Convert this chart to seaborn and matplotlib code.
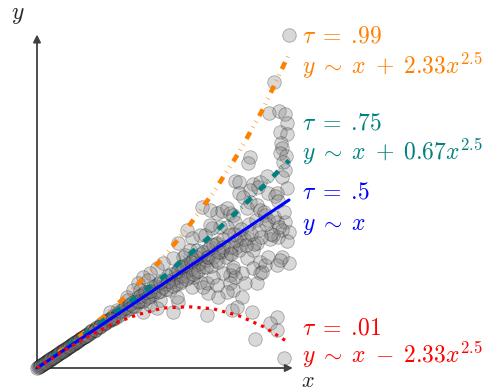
import matplotlib
matplotlib.use('Agg')
import matplotlib.pyplot as plt
import seaborn as sns
import pandas as pd

sns.set_style('white')
plt.rcParams['mathtext.fontset'] = 'cm'
plt.rcParams['lines.scale_dashes'] = False

upper_x = [1.00, 0.940, 0.921, 0.960, 0.984, 0.992, 0.964, 0.992, 0.968, 0.972, 0.964, 0.988, 0.845, 0.837,
           0.786, 0.802, 0.984, 0.972, 0.992, 0.802, 0.857, 0.885, 0.913, 0.877, 0.845, 0.917, 0.952, 0.976,
           0.944, 0.956, 0.817, 0.845, 0.833, 0.873, 0.885, 0.905, 0.917, 0.952, 0.984, 1.00, 0.972, 0.956,
           0.937, 0.925, 0.992, 0.714, 0.734, 0.766, 0.786, 0.754, 0.726, 0.694, 0.667, 0.647, 0.595, 0.615,
           0.806, 0.833, 0.873, 0.857, 0.806, 0.786, 0.766, 0.734, 0.714, 0.687, 0.675, 0.647, 0.607, 0.619,
           0.579, 0.567, 0.833, 0.885, 0.905, 0.917, 0.972, 1.00, 0.952, 0.857, 0.778, 0.766, 0.813, 0.885,
           0.738, 0.786, 0.766, 0.778, 0.813, 0.754, 0.718, 0.679, 0.825, 0.873, 0.893, 0.965, 0.560, 0.540,
           0.675, 0.774, 0.853, 0.952, 0.925, 0.952, 0.865, 0.980, 0.615, 0.647, 0.675, 0.619, 0.567, 0.528,
           0.488, 0.476, 0.448, 0.421, 0.655, 0.687, 0.754, 0.778, 0.687, 0.560, 0.635, 0.587, 0.540, 0.500,
           0.476, 0.448, 0.421, 0.401, 0.381, 0.357, 0.778, 0.698, 0.659, 0.714, 0.556, 0.794, 0.440, 0.409,
           0.361, 0.317, 0.290]
upper_y = [1.98, 1.70, 1.52, 1.53, 1.51, 1.46, 1.405, 1.39, 1.34, 1.31, 1.28, 1.26, 1.256, 1.22,
           1.113, 1.107, 1.18, 1.137, 1.071, 1.042, 1.095, 1.107, 1.143, 1.077, 1.06, 1.042, 1.042, 1.226,
           1.024, 0.994, 1.018, 0.988, 0.952, 0.97, 0.94, 0.911, 0.881, 0.869, 0.869, 0.81, 0.821, 0.78,
           0.792, 0.768, 0.756, 0.923, 0.935, 0.923, 0.869, 0.839, 0.839, 0.833, 0.792, 0.792, 0.821, 0.774,
           0.792, 0.774, 0.744, 0.702, 0.732, 0.714, 0.685, 0.702, 0.744, 0.72, 0.661, 0.625, 0.702, 0.643,
           0.661, 0.601, 0.655, 0.631, 0.613, 0.661, 0.661, 0.625, 0.613, 0.595, 0.583, 0.554, 0.565, 0.565,
           0.565, 0.542, 0.506, 0.464, 0.423, 0.452, 0.423, 0.446, 0.506, 0.506, 0.571, 0.64, 0.393, 0.333,
           0.315, 0.345, 0.333, 0.304, 0.268, 0.226, 0.173, 0.06, 0.482, 0.512, 0.506, 0.542, 0.506, 0.464,
           0.405, 0.357, 0.375, 0.333, 0.958, 0.94, 0.952, 0.911, 0.851, 0.744, 0.702, 0.673, 0.655, 0.625,
           0.595, 0.565, 0.542, 0.506, 0.464, 0.423, 0.601, 0.542, 0.482, 0.494, 0.423, 0.363, 0.524, 0.464,
           0.405, 0.345, 0.333]

band_x = [0.005, 0.01, 0.015, 0.02, 0.025, 0.03, 0.035, 0.04, 0.045, 0.05, 0.055, 0.06, 0.065, 0.07, 0.075,
          0.08, 0.085, 0.09, 0.095, 0.10, 0.105, 0.11, 0.115, 0.12, 0.125, 0.13, 0.135, 0.14, 0.145, 0.15,
          0.155, 0.16, 0.165, 0.17, 0.175, 0.18, 0.185, 0.19, 0.195, 0.20, 0.205, 0.21, 0.215, 0.22, 0.225,
          0.23, 0.235, 0.24, 0.245, 0.25, 0.255, 0.26, 0.265, 0.27, 0.275, 0.28, 0.285, 0.29, 0.295,
          0.30, 0.30, 0.31, 0.32, 0.33, 0.34, 0.35, 0.36, 0.36, 0.37, 0.38, 0.39, 0.40, 0.40, 0.41, 0.42,
          0.43, 0.44, 0.45, 0.46, 0.46, 0.47, 0.48, 0.49, 0.50, 0.50, 0.51, 0.52, 0.53, 0.54, 0.55, 0.55,
          0.56, 0.57, 0.58, 0.59, 0.60, 0.60, 0.61, 0.62, 0.63, 0.64, 0.65, 0.66, 0.67, 0.68, 0.69, 0.70,
          0.71, 0.72, 0.73, 0.74, 0.75, 0.77, 0.78, 0.80, 0.82, 0.84, 0.86, 0.88, 0.90, 0.93,
          0.30, 0.32, 0.33, 0.35, 0.37, 0.38, 0.40, 0.41, 0.42, 0.43, 0.44, 0.45, 0.47, 0.48, 0.49, 0.51,
          0.52, 0.53, 0.54, 0.56, 0.57, 0.58, 0.59, 0.61, 0.62, 0.63, 0.64, 0.66, 0.67, 0.68, 0.70, 0.71,
          0.72, 0.74, 0.76, 0.77, 0.79, 0.81, 0.83, 0.85, 0.87, 0.89, 0.91, 0.94, 0.96, 0.98]
band_y = [0.005, 0.01, 0.015, 0.02, 0.025, 0.03, 0.035, 0.04, 0.045, 0.05, 0.055, 0.06, 0.065, 0.07, 0.075,
          0.08, 0.085, 0.09, 0.095, 0.10, 0.105, 0.11, 0.115, 0.12, 0.125, 0.13, 0.136, 0.14, 0.144, 0.15,
          0.156, 0.16, 0.164, 0.17, 0.176, 0.18, 0.184, 0.19, 0.196, 0.20, 0.204, 0.21, 0.218, 0.225, 0.222,
          0.225, 0.238, 0.245, 0.242, 0.245, 0.26, 0.265, 0.262, 0.265, 0.28, 0.285, 0.28, 0.283, 0.30,
          0.31, 0.29, 0.30, 0.33, 0.32, 0.35, 0.34, 0.37, 0.35, 0.36, 0.39, 0.37, 0.42, 0.39, 0.40, 0.44,
          0.41, 0.45, 0.43, 0.48, 0.44, 0.46, 0.50, 0.46, 0.52, 0.48, 0.50, 0.55, 0.51, 0.53, 0.57, 0.50,
          0.54, 0.60, 0.55, 0.58, 0.62, 0.54, 0.59, 0.65, 0.57, 0.62, 0.68, 0.60, 0.64, 0.71, 0.61, 0.66,
          0.74, 0.63, 0.69, 0.77, 0.66, 0.72, 0.80, 0.70, 0.77, 0.86, 0.74, 0.82, 0.93, 0.80,
          0.30, 0.31, 0.34, 0.36, 0.38, 0.37, 0.40, 0.43, 0.40, 0.45, 0.42, 0.46, 0.49, 0.45, 0.51, 0.47,
          0.52, 0.56, 0.49, 0.58, 0.52, 0.61, 0.53, 0.63, 0.56, 0.66, 0.58, 0.69, 0.60, 0.66, 0.73, 0.64,
          0.69, 0.72, 0.79, 0.68, 0.76, 0.83, 0.73, 0.80, 0.88, 0.78, 0.86, 0.90, 0.84, 0.93]

# extra points packed near the origin (the dark streak)
origin_x = [0.0, 0.0075, 0.0125, 0.0175, 0.0225, 0.0275, 0.0325, 0.0375, 0.0425, 0.0475, 0.0525, 0.0575,
            0.0625, 0.0675, 0.0725, 0.0775, 0.0825, 0.0875, 0.0925, 0.0975, 0.1025, 0.1075, 0.1125, 0.1175,
            0.1225, 0.1275, 0.1325, 0.1375, 0.1425, 0.1475, 0.1525, 0.1575, 0.1625, 0.1675, 0.1725, 0.1775,
            0.1825, 0.1875, 0.1925, 0.1975, 0.21, 0.23, 0.25, 0.27, 0.29]
origin_y = [0.0, 0.0075, 0.0125, 0.0175, 0.0225, 0.0275, 0.0325, 0.0375, 0.0425, 0.0475, 0.0525, 0.0575,
            0.0625, 0.0675, 0.0725, 0.0775, 0.0825, 0.0875, 0.0925, 0.0975, 0.1025, 0.1075, 0.1125, 0.1175,
            0.1225, 0.1275, 0.1325, 0.1375, 0.1425, 0.1475, 0.1525, 0.1575, 0.1625, 0.1675, 0.1725, 0.1775,
            0.1825, 0.1875, 0.1925, 0.1975, 0.212, 0.228, 0.252, 0.268, 0.292]

# quantile fits
fit_x = [0.0, 0.1, 0.2, 0.3, 0.4, 0.5, 0.6, 0.7, 0.8, 0.9, 1.0]
q99_y = [0.0, 0.108, 0.225, 0.35, 0.50, 0.655, 0.84, 1.045, 1.28, 1.55, 1.87]
q75_y = [0.0, 0.11, 0.212, 0.324, 0.428, 0.54, 0.67, 0.80, 0.94, 1.085, 1.235]
q50_y = [0.0, 0.1, 0.2, 0.3, 0.4, 0.5, 0.6, 0.7, 0.8, 0.9, 1.0]
q01_y = [0.0, 0.098, 0.185, 0.262, 0.318, 0.357, 0.365, 0.352, 0.312, 0.245, 0.15]

labels = [(r'$\tau\;=\;.\!99$', r'$y\;\sim\;x\;+\;2.33x^{2.5}$', '#ff8000', 1.98, 1.80),
          (r'$\tau\;=\;.\!75$', r'$y\;\sim\;x\;+\;0.67x^{2.5}$', '#008080', 1.464, 1.286),
          (r'$\tau\;=\;.\!5$', r'$y\;\sim\;x$', '#0000ff', 1.048, 0.85),
          (r'$\tau\;=\;.\!01$', r'$y\;\sim\;x\;-\;2.33x^{2.5}$', '#ff0000', 0.244, 0.08)]

pts = pd.DataFrame({'x': upper_x + band_x + origin_x, 'y': upper_y + band_y + origin_y})

fig = plt.figure(figsize=(4.98, 3.92), dpi=100)
ax = fig.add_axes([37 / 498, 24 / 392, 252 / 498, 331 / 392])

sns.scatterplot(data=pts, x='x', y='y', s=95, color='0.5', alpha=0.3, edgecolor='k',
                linewidth=0.6, clip_on=False, ax=ax, zorder=2)

styles = [(q99_y, '#ff8000', 3.3, (0, (5.5, 4, 0.4, 4, 0.4, 4.5))),
          (q75_y, '#008080', 3.4, (0, (5.5, 3.8, 0.4, 4.0))),
          (q50_y, '#0000ff', 2.2, '-'),
          (q01_y, '#ff0000', 2.3, (0, (2.3, 3.7)))]
for ys, col, lw, ls in styles:
    sns.lineplot(x=fit_x, y=ys, color=col, linewidth=lw, linestyle=ls, sort=False,
                 estimator=None, clip_on=False, ax=ax, zorder=3)

# axes with arrow heads
arrow = dict(arrowstyle='-|>', color='0.25', lw=1.3, mutation_scale=11, shrinkA=0, shrinkB=0)
ax.annotate('', xy=(1.015, 0), xytext=(0, 0), arrowprops=arrow, annotation_clip=False, zorder=1)
ax.annotate('', xy=(0, 1.985), xytext=(0, 0), arrowprops=arrow, annotation_clip=False, zorder=1)
ax.text(-0.075, 2.11, '$y$', fontsize=17, ha='center', va='center')
ax.text(1.075, -0.115, '$x$', fontsize=16, ha='center', va='baseline')

for tau, eq, col, y1, y2 in labels:
    ax.text(1.052, y1, tau, color=col, fontsize=17, ha='left', va='center')
    ax.text(1.052, y2, eq, color=col, fontsize=17, ha='left', va='center')

ax.set_xlim(0, 1.0)
ax.set_ylim(0, 331 / 168)
ax.set_axis_off()
if ax.get_legend():
    ax.get_legend().remove()

fig.savefig('out.png', dpi=100)
